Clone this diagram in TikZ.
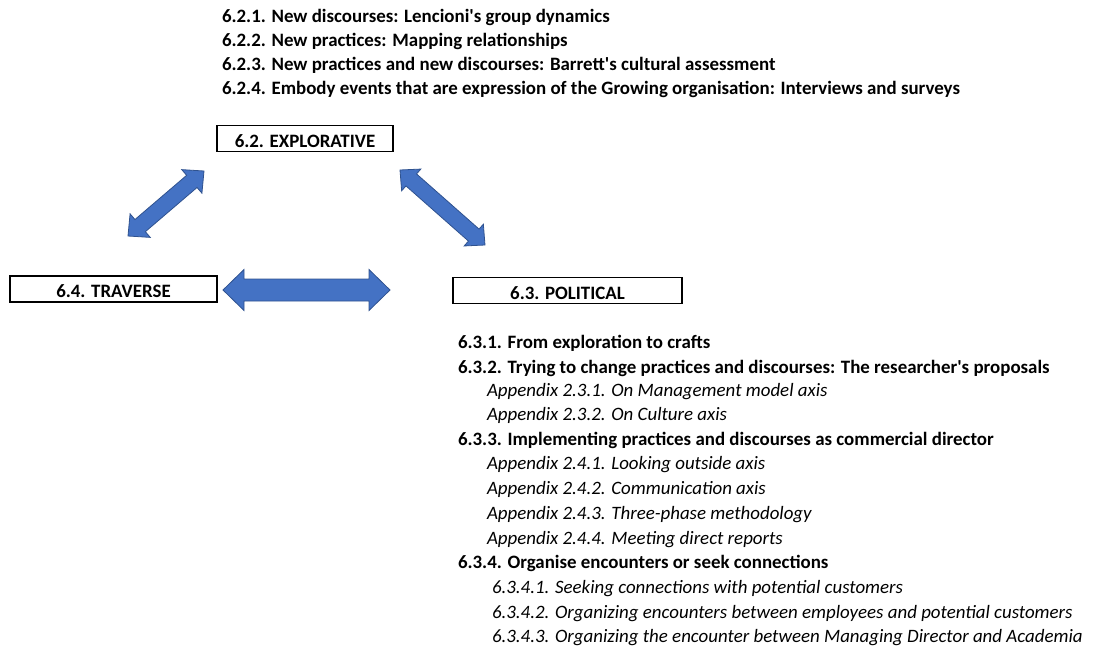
\documentclass[tikz,border=0pt]{standalone}
\usepackage{fontspec}
\setmainfont{Carlito}
\usetikzlibrary{calc}
\definecolor{arrowblue}{HTML}{4472C4}
\definecolor{arrowedge}{HTML}{2F528F}

% Double-headed block arrow between two named coordinates:
% #1 start tip, #2 end tip, #3 shaft half width, #4 head half width, #5 head length
\newcommand\dblblock[5]{%
  \filldraw[blockarrow] (#1)
    -- ($(#1)!#5!(#2)!#4!90:(#2)$)
    -- ($(#1)!#5!(#2)!#3!90:(#2)$)
    -- ($(#2)!#5!(#1)!#3!-90:(#1)$)
    -- ($(#2)!#5!(#1)!#4!-90:(#1)$)
    -- (#2)
    -- ($(#2)!#5!(#1)!#4!90:(#1)$)
    -- ($(#2)!#5!(#1)!#3!90:(#1)$)
    -- ($(#1)!#5!(#2)!#3!-90:(#2)$)
    -- ($(#1)!#5!(#2)!#4!-90:(#2)$)
    -- cycle;}

\newcommand\apos{\textquotesingle}

\begin{document}
\begin{tikzpicture}[x=1pt,y=-1pt,
  every node/.style={inner sep=0pt, outer sep=0pt},
  head/.style={font=\fontsize{18.9}{22}\selectfont\bfseries, anchor=base west},
  sub/.style={font=\fontsize{18.9}{22}\selectfont\itshape, anchor=base west},
  secbox/.style={draw=black, line width=1.3pt, fill=white, minimum height=26pt,
    text height=17pt, text depth=0pt, font=\fontsize{18.9}{22}\selectfont\bfseries},
  blockarrow/.style={fill=arrowblue, draw=arrowedge, line width=0.8pt, line join=miter}]
\useasboundingbox (0,0) rectangle (1098,649);

% section boxes
\node[secbox, minimum width=176pt] (expl) at (305,138.5) {6.2. EXPLORATIVE};
\node[secbox, minimum width=207pt] (trav) at (113.5,289) {6.4. TRAVERSE};
\node[secbox, minimum width=229pt] (pol)  at (567.5,290.5) {6.3. POLITICAL};

% arrow end points
\coordinate (lda) at (128,236);
\coordinate (ldb) at (204,171);
\coordinate (rda) at (400,170);
\coordinate (rdb) at (485,245);
\coordinate (ha)  at (223,290);
\coordinate (hb)  at (390,290);

\dblblock{lda}{ldb}{8pt}{15.5pt}{16pt}
\dblblock{rda}{rdb}{8pt}{14.5pt}{15pt}
\dblblock{ha}{hb}{11pt}{20.5pt}{21pt}

% explorative subsections
\node[head] (e1) at (222,22)   {6.2.1. New discourses: Lencioni\apos s group dynamics};
\node[head] (e2) at (222,46.5) {6.2.2. New practices: Mapping relationships};
\node[head] (e3) at (222,70.5) {6.2.3. New practices and new discourses: Barrett\apos s cultural assessment};
\node[head] (e4) at (222,94.5) {6.2.4. Embody events that are expression of the Growing organisation: Interviews and surveys};

% political subsections
\node[head] (p1)  at (458,348) {6.3.1. From exploration to crafts};
\node[head] (p2)  at (458,373) {6.3.2. Trying to change practices and discourses: The researcher\apos s proposals};
\node[sub]  (p21) at (487,396) {Appendix 2.3.1. On Management model axis};
\node[sub]  (p22) at (487,420) {Appendix 2.3.2. On Culture axis};
\node[head] (p3)  at (458,445) {6.3.3. Implementing practices and discourses as commercial director};
\node[sub]  (p31) at (487,469) {Appendix 2.4.1. Looking outside axis};
\node[sub]  (p32) at (487,494) {Appendix 2.4.2. Communication axis};
\node[sub]  (p33) at (487,519) {Appendix 2.4.3. Three-phase methodology};
\node[sub]  (p34) at (487,544) {Appendix 2.4.4. Meeting direct reports};
\node[head] (p4)  at (458,568) {6.3.4. Organise encounters or seek connections};
\node[sub]  (p41) at (492,593) {6.3.4.1. Seeking connections with potential customers};
\node[sub]  (p42) at (492,618) {6.3.4.2. Organizing encounters between employees and potential customers};
\node[sub]  (p43) at (492,642) {6.3.4.3. Organizing the encounter between Managing Director and Academia};
\end{tikzpicture}
\end{document}
